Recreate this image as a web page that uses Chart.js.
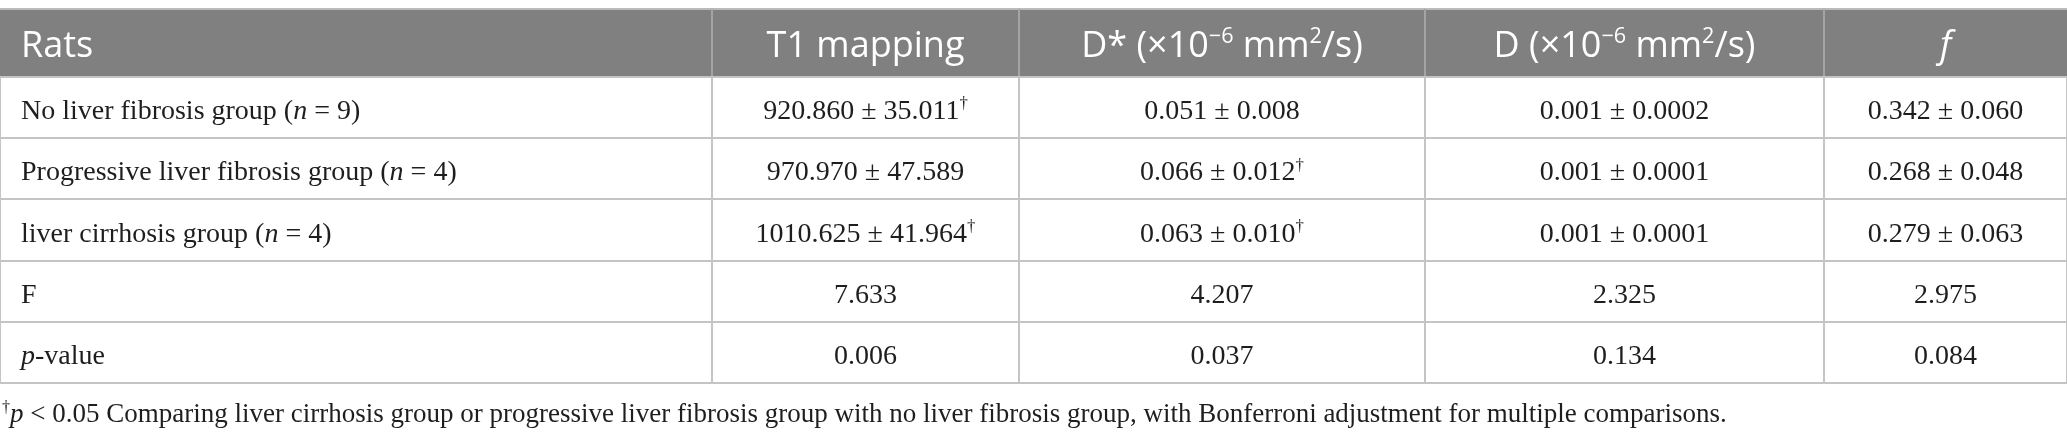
<!DOCTYPE html>
<html>
<head>
<meta charset="utf-8">
<script src="https://cdn.jsdelivr.net/npm/chart.js@4/dist/chart.umd.min.js"></script>
<style>
  html, body { margin: 0; padding: 0; background: #fff; }
  canvas { display: block; }
</style>
</head>
<body>
<canvas id="table" width="2067" height="440"></canvas>
<script>
// Table data (_x_ = italic, ^x^ = superscript)
const COLUMNS = ['Rats', 'T1 mapping', 'D* (×10^−6^ mm^2^/s)', 'D (×10^−6^ mm^2^/s)', '_f_'];
const ROW_LABELS = [
  'No liver fibrosis group (_n_ = 9)',
  'Progressive liver fibrosis group (_n_ = 4)',
  'liver cirrhosis group (_n_ = 4)',
  'F',
  '_p_-value'
];
const T1_MAPPING = ['920.860 ± 35.011^†^', '970.970 ± 47.589', '1010.625 ± 41.964^†^', '7.633', '0.006'];
const D_STAR = ['0.051 ± 0.008', '0.066 ± 0.012^†^', '0.063 ± 0.010^†^', '4.207', '0.037'];
const D_VALUES = ['0.001 ± 0.0002', '0.001 ± 0.0001', '0.001 ± 0.0001', '2.325', '0.134'];
const F_VALUES = ['0.342 ± 0.060', '0.268 ± 0.048', '0.279 ± 0.063', '2.975', '0.084'];
const FOOTNOTE = '^†^_p_ < 0.05 Comparing liver cirrhosis group or progressive liver fibrosis group with no liver fibrosis group, with Bonferroni adjustment for multiple comparisons.';

// layout
const COL_EDGES = [0, 712, 1019, 1425, 1824, 2067];
const HEADER_TOP = 9;
const HEAD_FONT = '"Open Sans", "Noto Sans", sans-serif';
const BODY_FONT = '"Liberation Serif", "DejaVu Serif", serif';

const valueCols = [T1_MAPPING, D_STAR, D_VALUES, F_VALUES];

function parseRich(str) {
  const segs = [];
  let cur = '', italic = false, sup = false;
  for (const ch of str) {
    if (ch === '_' || ch === '^') {
      if (cur) segs.push({ text: cur, italic, sup });
      cur = '';
      if (ch === '_') italic = !italic; else sup = !sup;
    } else {
      cur += ch;
    }
  }
  if (cur) segs.push({ text: cur, italic, sup });
  return segs;
}

function drawRich(ctx, str, x, y, align, family, size, color) {
  const segs = parseRich(str);
  const fontOf = s => `${s.italic ? 'italic ' : ''}${s.sup ? size * 0.6 : size}px ${family}`;
  let total = 0;
  segs.forEach(s => {
    ctx.font = fontOf(s);
    s.w = ctx.measureText(s.text).width;
    total += s.w;
  });
  let cx = align === 'center' ? x - total / 2 : x;
  ctx.fillStyle = color;
  ctx.textAlign = 'left';
  ctx.textBaseline = 'alphabetic';
  segs.forEach(s => {
    ctx.font = fontOf(s);
    ctx.fillText(s.text, cx, s.sup ? y - size * 0.38 : y);
    cx += s.w;
  });
}

const tablePlugin = {
  id: 'tablePlugin',
  beforeDraw(chart) {
    const { ctx, chartArea, scales } = chart;
    const x = scales.x;
    ctx.save();
    // header band
    ctx.fillStyle = '#808080';
    ctx.fillRect(0, HEADER_TOP, chart.width, chartArea.top - HEADER_TOP);
    ctx.strokeStyle = '#bababa';
    ctx.lineWidth = 2;
    ctx.beginPath();
    ctx.moveTo(0, HEADER_TOP);
    ctx.lineTo(chart.width, HEADER_TOP);
    ctx.stroke();
    ctx.strokeStyle = '#a4a4a4';
    COL_EDGES.slice(1, -1).forEach(v => {
      const px = Math.round(x.getPixelForValue(v));
      ctx.beginPath();
      ctx.moveTo(px, HEADER_TOP);
      ctx.lineTo(px, chartArea.top);
      ctx.stroke();
    });
    ctx.restore();
  },
  afterDraw(chart) {
    const { ctx, chartArea, scales } = chart;
    const x = scales.x, y = scales.y;
    const colCenter = c => (x.getPixelForValue(COL_EDGES[c]) + x.getPixelForValue(COL_EDGES[c + 1])) / 2;
    const left = x.getPixelForValue(COL_EDGES[0]) + 21;
    ctx.save();
    // header texts
    const headBase = (HEADER_TOP + chartArea.top) / 2 + 14;
    COLUMNS.forEach((label, c) => {
      if (c === 0) drawRich(ctx, label, left, headBase, 'left', HEAD_FONT, 36, '#ffffff');
      else drawRich(ctx, label, colCenter(c), headBase, 'center', HEAD_FONT, 36, '#ffffff');
    });
    // body rows
    ROW_LABELS.forEach((label, r) => {
      const base = y.getPixelForValue(r) + 11.5;
      drawRich(ctx, label, left, base, 'left', BODY_FONT, 28, '#1e1e1e');
      valueCols.forEach((col, c) => {
        drawRich(ctx, col[r], colCenter(c + 1), base, 'center', BODY_FONT, 28, '#1e1e1e');
      });
    });
    // footnote
    drawRich(ctx, FOOTNOTE, 2, chartArea.bottom + 39, 'left', BODY_FONT, 27, '#1e1e1e');
    ctx.restore();
  }
};

new Chart(document.getElementById('table'), {
  type: 'scatter',
  data: { labels: ROW_LABELS, datasets: [] },
  options: {
    responsive: false,
    animation: false,
    devicePixelRatio: 1,
    layout: { padding: { top: 77, bottom: 57, left: 0, right: 0 } },
    plugins: { legend: { display: false }, tooltip: { enabled: false } },
    scales: {
      x: {
        type: 'linear',
        min: COL_EDGES[0],
        max: COL_EDGES[COL_EDGES.length - 1],
        afterBuildTicks: s => { s.ticks = COL_EDGES.map(v => ({ value: v })); },
        ticks: { display: false },
        grid: { color: '#c4c4c4', lineWidth: 2, drawTicks: false },
        border: { display: false }
      },
      y: {
        type: 'category',
        labels: ROW_LABELS,
        offset: true,
        ticks: { display: false },
        grid: { color: '#c4c4c4', lineWidth: 2, drawTicks: false, offset: true },
        border: { display: false }
      }
    }
  },
  plugins: [tablePlugin]
});
</script>
</body>
</html>
